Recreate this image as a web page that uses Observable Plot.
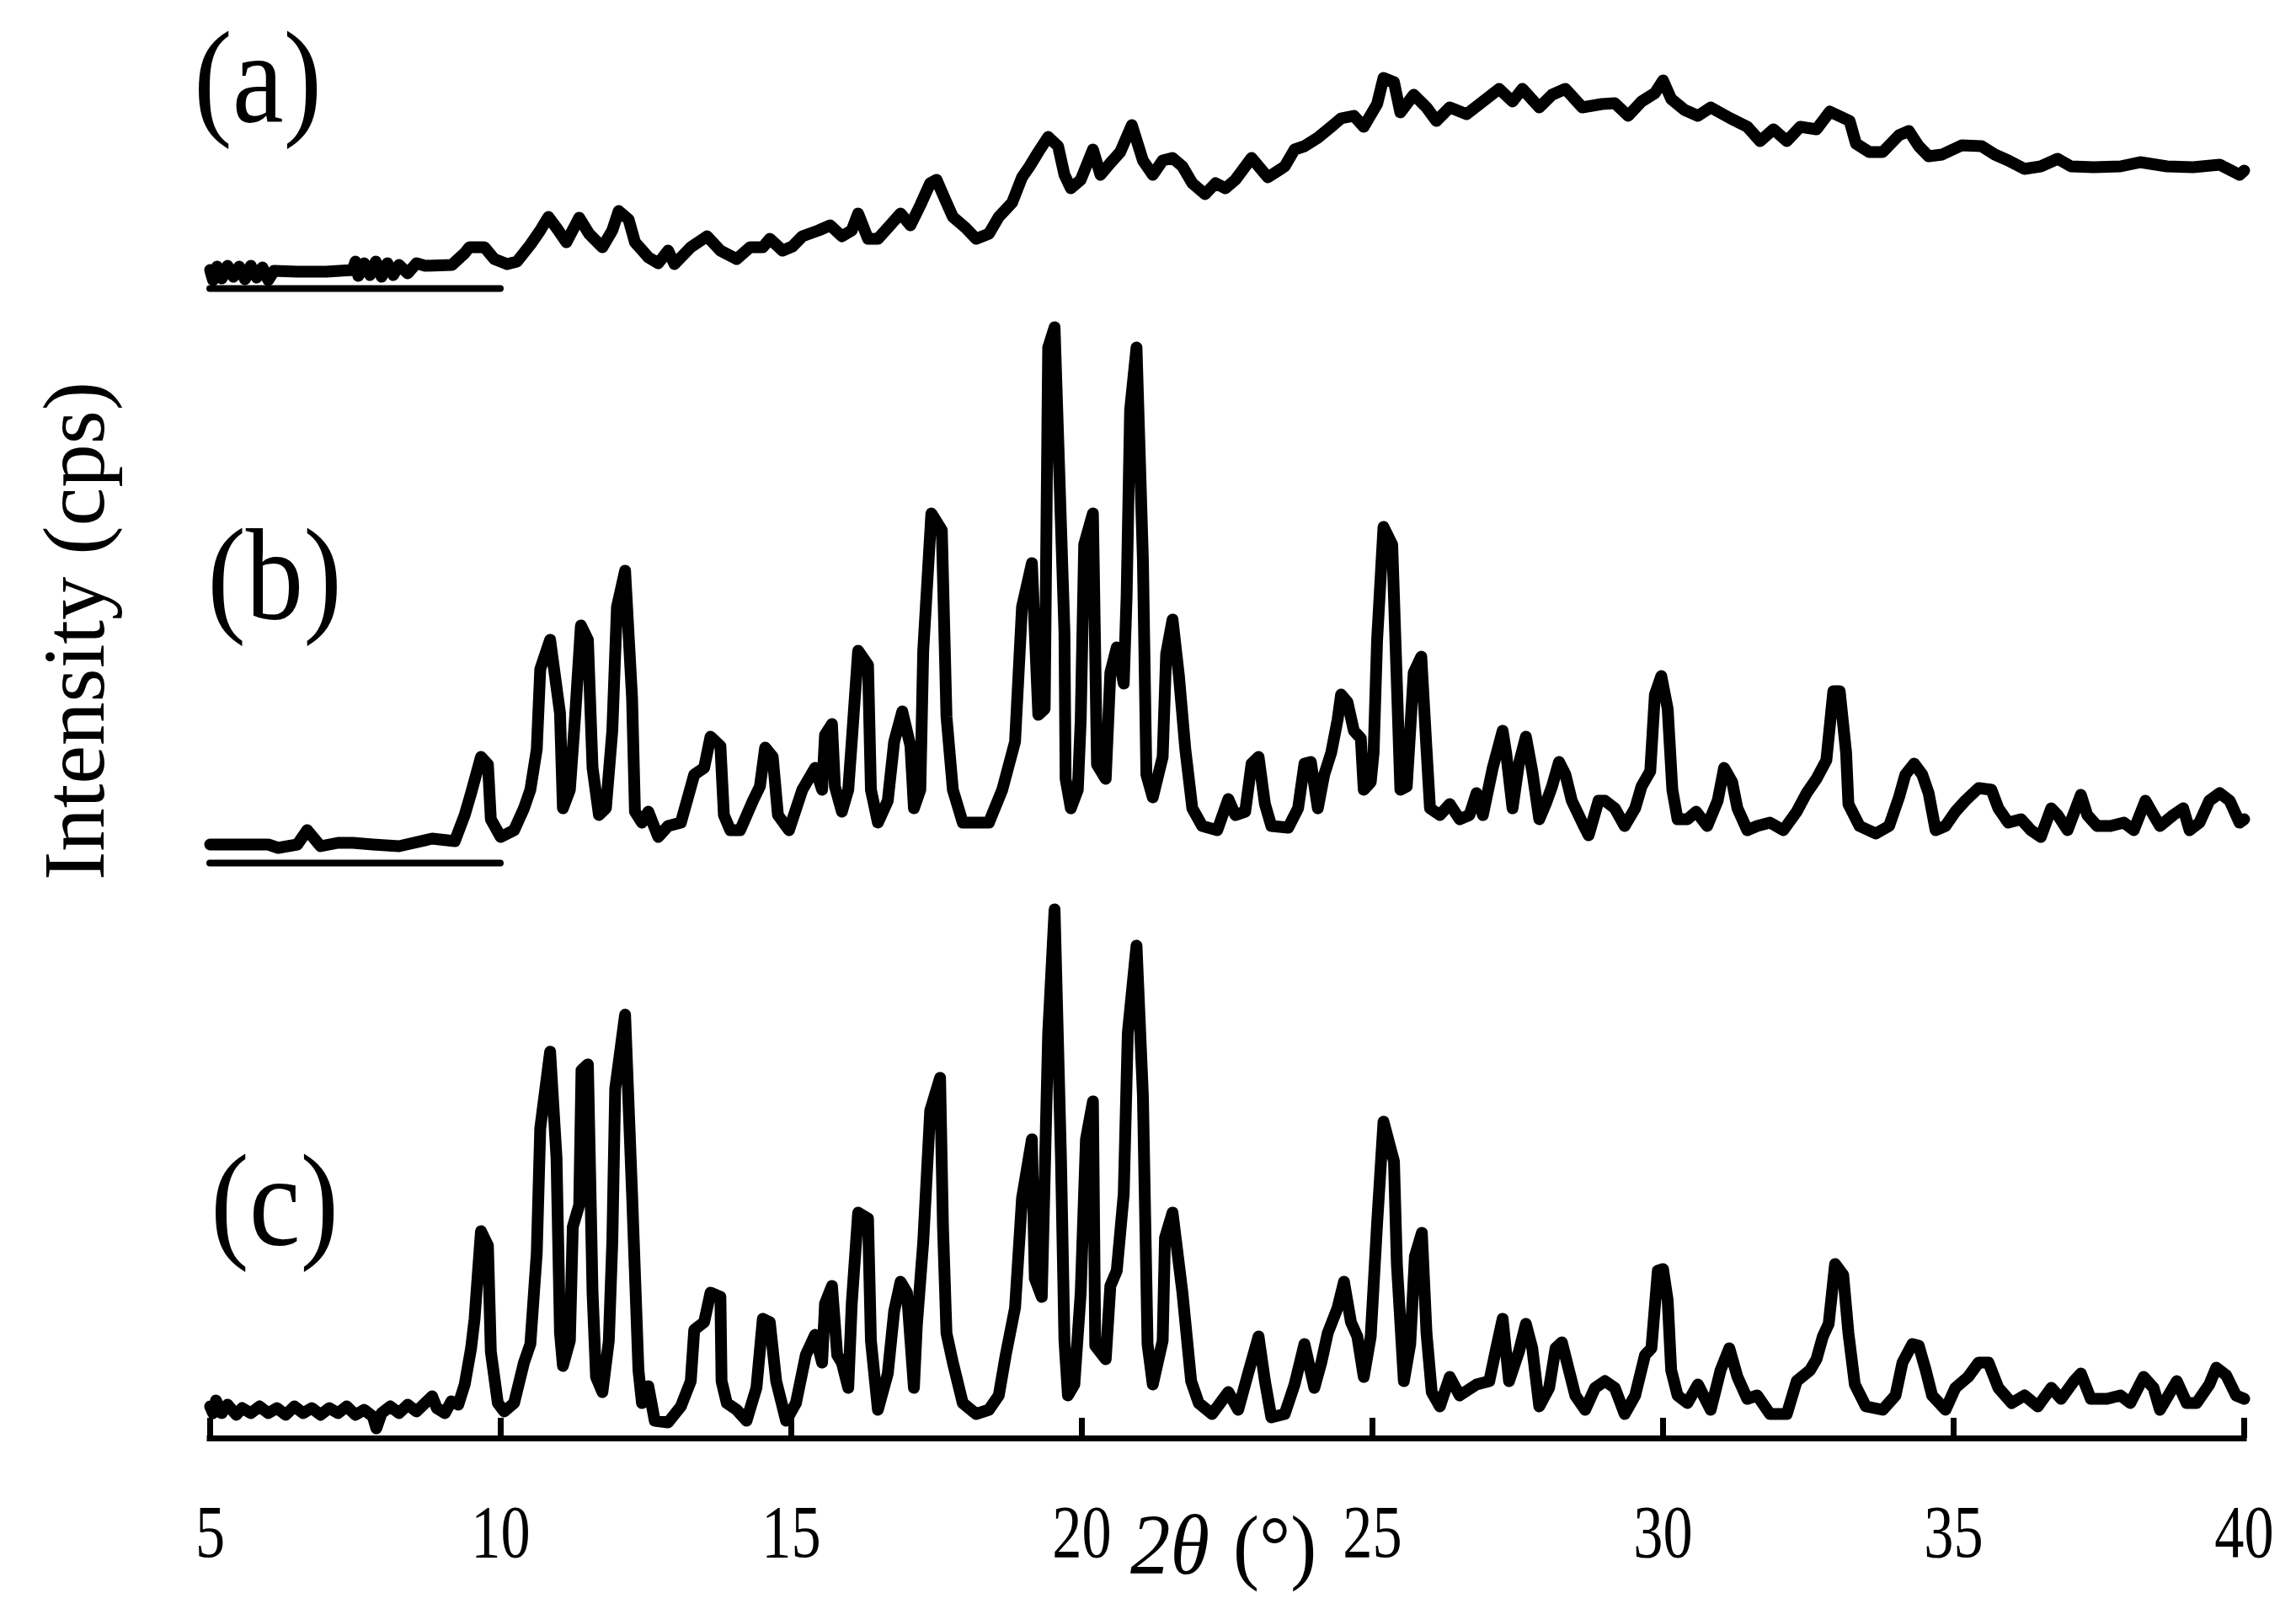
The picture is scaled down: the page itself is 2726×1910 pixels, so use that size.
<!DOCTYPE html>
<html>
<head>
<meta charset="utf-8">
<script src="https://cdn.jsdelivr.net/npm/d3@7"></script>
<script src="https://cdn.jsdelivr.net/npm/@observablehq/plot@0.6"></script>
<style>
  html, body { margin: 0; padding: 0; background: #ffffff; }
  #chart svg { display: block; }
</style>
</head>
<body>
<div id="chart"></div>
<script>
// ---- Data: [2θ (deg), intensity above each pattern's own baseline (arbitrary counts)] ----
const traceA = [
  [5.0,22],[5.05,10],[5.12,26],[5.2,12],[5.3,27],[5.4,14],[5.5,26],[5.6,11],[5.7,27],[5.8,13],
  [5.9,25],[6.0,10],[6.1,21],[6.5,20],[7.0,20],[7.45,22],[7.5,32],[7.55,15],[7.65,30],[7.75,16],
  [7.85,32],[7.95,14],[8.05,30],[8.15,16],[8.25,28],[8.4,18],[8.55,30],[8.7,27],[9.16,28],
  [9.38,42],[9.46,49],[9.72,49],[9.89,35],[10.11,29],[10.28,32],[10.51,52],[10.68,69],
  [10.82,85],[10.96,72],[11.13,55],[11.35,84],[11.52,65],[11.75,49],[11.92,69],[12.03,92],[12.2,82],
  [12.31,55],[12.54,37],[12.71,30],[12.88,45],[12.99,29],[13.27,49],[13.55,62],[13.78,45],[14.06,35],
  [14.29,49],[14.51,49],[14.63,59],[14.85,45],[15.02,50],[15.19,62],[15.47,69],[15.67,75],[15.87,62],
  [16.04,69],[16.15,89],[16.32,59],[16.49,59],[16.66,72],[16.88,89],[17.05,75],[17.22,99],[17.39,125],
  [17.5,129],[17.67,102],[17.78,85],[18.0,72],[18.18,59],[18.4,65],[18.57,85],[18.8,102],[18.97,132],
  [19.1,145],[19.25,162],[19.42,180],[19.59,169],[19.7,135],[19.81,119],[19.98,129],[20.19,165],
  [20.32,135],[20.49,149],[20.66,162],[20.86,194],[21.05,152],[21.22,135],[21.39,152],[21.56,155],
  [21.73,145],[21.9,125],[22.12,112],[22.3,125],[22.47,119],[22.64,129],[22.92,155],[23.2,132],
  [23.49,145],[23.66,165],[23.83,169],[24.06,179],[24.29,192],[24.46,202],[24.68,205],[24.85,192],
  [25.08,219],[25.19,250],[25.37,245],[25.48,209],[25.71,230],[25.93,215],[26.1,199],[26.33,215],
  [26.62,207],[26.9,222],[27.18,237],[27.41,222],[27.58,237],[27.87,215],[28.09,230],[28.32,237],
  [28.61,215],[28.95,219],[29.17,220],[29.4,205],[29.63,222],[29.86,232],[30.0,247],[30.14,225],
  [30.37,212],[30.6,205],[30.82,215],[31.16,202],[31.45,192],[31.67,175],[31.9,189],[32.13,175],
  [32.36,192],[32.64,189],[32.87,210],[33.21,199],[33.32,172],[33.55,162],[33.78,162],[34.06,182],
  [34.23,187],[34.4,169],[34.57,157],[34.8,159],[35.14,170],[35.48,169],[35.71,159],[35.94,152],
  [36.22,142],[36.5,145],[36.79,154],[37.02,145],[37.41,144],[37.87,145],[38.21,150],[38.67,145],
  [39.12,144],[39.58,147],[39.92,135],[40.0,140]
];
const traceB = [
  [5.0,22],[5.5,22],[6.0,22],[6.17,18],[6.5,22],[6.67,39],[6.9,20],[7.2,24],[7.46,24],[7.8,22],
  [8.25,20],[8.82,29],[9.21,26],[9.38,57],[9.49,83],[9.66,126],[9.78,117],[9.83,52],[10.0,31],
  [10.23,39],[10.4,65],[10.51,87],[10.62,135],[10.68,230],[10.85,265],[11.02,178],[11.07,65],
  [11.19,87],[11.28,174],[11.38,282],[11.5,265],[11.58,113],[11.69,57],[11.81,65],[11.92,157],
  [12.0,304],[12.14,347],[12.26,196],[12.31,61],[12.43,48],[12.54,61],[12.71,31],[12.88,44],
  [13.1,48],[13.33,105],[13.5,113],[13.61,150],[13.78,139],[13.84,57],[13.95,39],[14.12,39],
  [14.34,74],[14.46,91],[14.55,137],[14.68,126],[14.77,57],[14.96,39],[15.19,87],[15.41,113],
  [15.53,87],[15.58,152],[15.7,165],[15.75,91],[15.87,61],[15.98,87],[16.04,144],[16.15,252],
  [16.32,235],[16.37,87],[16.49,48],[16.66,74],[16.77,144],[16.91,180],[17.05,139],[17.11,65],
  [17.22,87],[17.27,252],[17.41,415],[17.59,395],[17.67,174],[17.78,87],[17.95,48],[18.4,48],
  [18.63,87],[18.85,144],[18.97,304],[19.14,356],[19.25,176],[19.36,183],[19.42,612],[19.53,636],
  [19.7,274],[19.72,100],[19.81,65],[19.93,87],[19.98,170],[20.04,378],[20.19,415],[20.26,117],
  [20.41,100],[20.49,226],[20.6,256],[20.72,213],[20.77,317],[20.83,538],[20.94,612],[21.05,360],
  [21.11,105],[21.22,78],[21.39,126],[21.45,248],[21.56,289],[21.67,222],[21.78,135],[21.9,65],
  [22.07,44],[22.33,39],[22.52,76],[22.64,57],[22.81,61],[22.92,118],[23.04,126],[23.15,70],
  [23.26,44],[23.55,42],[23.72,65],[23.83,118],[23.94,120],[24.06,65],[24.17,105],[24.29,131],
  [24.4,170],[24.46,200],[24.57,191],[24.68,157],[24.8,148],[24.85,87],[24.97,96],[25.02,131],
  [25.08,265],[25.19,399],[25.34,378],[25.42,213],[25.48,87],[25.59,91],[25.71,226],[25.84,245],
  [25.93,135],[25.99,65],[26.16,57],[26.33,70],[26.5,52],[26.67,57],[26.79,83],[26.9,57],
  [27.07,113],[27.24,157],[27.3,131],[27.41,65],[27.52,118],[27.64,150],[27.75,109],[27.87,52],
  [27.98,70],[28.09,91],[28.21,120],[28.32,105],[28.43,74],[28.61,48],[28.72,33],[28.89,74],
  [29.0,74],[29.17,65],[29.34,44],[29.52,65],[29.63,91],[29.78,109],[29.86,200],[29.97,222],
  [30.08,183],[30.16,87],[30.25,52],[30.42,52],[30.57,61],[30.76,44],[30.94,74],[31.05,113],
  [31.19,96],[31.28,65],[31.45,39],[31.62,44],[31.84,48],[32.07,39],[32.3,61],[32.47,83],
  [32.64,100],[32.81,122],[32.93,204],[33.04,204],[33.15,131],[33.19,70],[33.38,44],[33.66,35],
  [33.89,44],[34.06,78],[34.17,105],[34.32,118],[34.46,105],[34.57,83],[34.69,39],[34.86,44],
  [35.03,61],[35.2,74],[35.43,89],[35.65,87],[35.77,65],[35.94,48],[36.16,52],[36.33,39],
  [36.5,31],[36.68,65],[36.79,57],[36.96,39],[37.19,81],[37.3,57],[37.47,44],[37.7,44],
  [37.93,48],[38.1,39],[38.3,74],[38.44,57],[38.55,44],[38.78,57],[38.95,65],[39.06,39],
  [39.23,48],[39.4,74],[39.58,83],[39.75,74],[39.92,48],[40.0,52]
];
const traceC = [
  [5.0,38],[5.05,30],[5.1,45],[5.2,30],[5.3,40],[5.45,28],[5.55,36],[5.7,30],[5.85,38],[6.0,30],
  [6.15,36],[6.3,28],[6.45,38],[6.6,30],[6.75,36],[6.9,28],[7.05,36],[7.2,30],[7.35,38],[7.5,28],
  [7.65,34],[7.8,26],[7.86,12],[7.95,30],[8.1,38],[8.25,30],[8.4,40],[8.55,32],[8.7,42],[8.82,50],
  [8.9,36],[9.04,30],[9.15,44],[9.27,40],[9.38,64],[9.49,107],[9.55,142],[9.66,246],
  [9.78,229],[9.83,103],[9.95,42],[10.06,32],[10.23,42],[10.4,90],[10.51,112],[10.62,220],
  [10.68,368],[10.85,459],[10.96,333],[11.02,125],[11.07,86],[11.19,116],[11.24,251],[11.35,277],
  [11.39,437],[11.5,444],[11.58,173],[11.64,73],[11.75,55],[11.86,116],[11.92,233],[11.97,415],
  [12.14,503],[12.26,290],[12.37,81],[12.43,42],[12.54,62],[12.65,21],[12.88,19],[13.1,38],
  [13.27,68],[13.33,129],[13.5,138],[13.61,173],[13.78,168],[13.8,68],[13.89,42],[14.06,34],
  [14.23,21],[14.4,60],[14.51,142],[14.63,138],[14.74,68],[14.91,21],[15.08,42],[15.25,99],
  [15.41,123],[15.53,90],[15.58,160],[15.7,181],[15.79,99],[15.87,90],[15.98,60],[16.04,160],
  [16.15,268],[16.32,261],[16.37,116],[16.49,34],[16.66,77],[16.77,151],[16.88,186],[16.99,173],
  [17.11,60],[17.16,134],[17.27,233],[17.39,389],[17.56,428],[17.61,251],[17.67,125],[17.78,90],
  [17.95,42],[18.18,29],[18.4,34],[18.57,51],[18.69,99],[18.85,155],[18.97,285],[19.14,355],
  [19.19,190],[19.31,168],[19.42,481],[19.53,628],[19.64,333],[19.7,116],[19.76,51],[19.87,64],
  [19.98,173],[20.07,355],[20.19,400],[20.23,110],[20.41,94],[20.49,181],[20.6,199],[20.72,290],
  [20.79,481],[20.94,585],[21.05,407],[21.13,112],[21.22,64],[21.39,116],[21.43,238],[21.56,268],
  [21.73,173],[21.88,68],[22.01,42],[22.24,29],[22.52,55],[22.69,34],[22.86,77],[23.04,121],
  [23.15,68],[23.26,25],[23.49,29],[23.66,64],[23.83,112],[24.0,60],[24.12,90],[24.23,125],
  [24.4,155],[24.51,186],[24.63,138],[24.74,121],[24.85,73],[24.97,121],[25.08,255],[25.19,376],
  [25.37,329],[25.42,207],[25.54,68],[25.65,112],[25.73,216],[25.85,244],[25.93,125],[26.02,55],
  [26.16,38],[26.33,73],[26.5,51],[26.79,64],[27.01,68],[27.13,107],[27.24,142],[27.35,68],
  [27.52,103],[27.64,136],[27.75,107],[27.87,38],[28.04,60],[28.15,107],[28.26,114],[28.38,81],
  [28.49,51],[28.66,34],[28.83,60],[29.0,68],[29.17,60],[29.34,29],[29.52,51],[29.69,99],
  [29.8,107],[29.91,199],[30.0,201],[30.08,164],[30.14,81],[30.25,51],[30.42,42],[30.6,64],
  [30.82,34],[30.99,81],[31.14,107],[31.28,73],[31.45,47],[31.62,51],[31.84,29],[32.13,29],
  [32.3,68],[32.53,81],[32.64,94],[32.75,121],[32.85,136],[32.96,207],[33.1,194],[33.19,125],
  [33.3,64],[33.49,38],[33.78,34],[34.0,51],[34.12,90],[34.29,112],[34.4,110],[34.52,81],
  [34.63,51],[34.86,34],[35.03,60],[35.25,73],[35.43,90],[35.6,90],[35.77,60],[36.0,42],
  [36.22,51],[36.45,38],[36.68,60],[36.85,47],[37.07,68],[37.19,77],[37.36,47],[37.64,47],
  [37.87,51],[38.04,42],[38.27,73],[38.44,60],[38.55,34],[38.84,68],[39.01,42],[39.18,42],
  [39.4,64],[39.52,84],[39.69,75],[39.86,51],[40.0,47]
];

const panelNames   = ["(a)", "(b)", "(c)"];
const panelOffsets = [1365, 683, 0];       // vertical stacking offsets (counts)
const panelLabelX  = [5.82, 6.11, 6.11];    // 2θ where each panel label sits
const panelLabelY  = [1564, 974, 231];      // counts at each panel label baseline
const baselineBarX = [5, 10];               // short zero-level bars under (a) and (b)
const xTicks       = [5, 10, 15, 20, 25, 30, 35, 40];
const xDomain      = [5, 40];
const yDomain      = [0, 1707];
const xLabelAt     = 22.4;

// ---- Build the table the library needs ----
const traces = [traceA, traceB, traceC];
const rows = traces.flatMap((t, i) =>
  t.map(([x, y]) => ({panel: panelNames[i], x, y: y + panelOffsets[i]}))
);
const labels = panelNames.map((name, i) => ({name, x: panelLabelX[i], y: panelLabelY[i]}));

const serif = "'Liberation Serif', 'Times New Roman', Times, serif";

const chart = Plot.plot({
  width: 2726,
  height: 1910,
  marginLeft: 249,
  marginRight: 62,
  marginTop: 0,
  marginBottom: 203,
  x: {domain: xDomain},
  y: {domain: yDomain, axis: null},
  style: {fontFamily: serif, background: "#ffffff", color: "#000000", overflow: "visible"},
  marks: [
    // zero-level bars for the upper two patterns
    Plot.ruleY(panelOffsets.filter(d => d > 0), {
      x1: baselineBarX[0], x2: baselineBarX[1],
      stroke: "#000", strokeWidth: 8, strokeLinecap: "round"
    }),
    // x axis line
    Plot.ruleY([0], {x1: xDomain[0], x2: xDomain[1], stroke: "#000", strokeWidth: 7, strokeLinecap: "square"}),
    // inward ticks
    Plot.axisX({ticks: xTicks, tickSize: 24, dy: -24, fill: "none", stroke: "#000", strokeWidth: 7, label: null}),
    // tick labels
    Plot.axisX({ticks: xTicks, tickSize: 0, tickPadding: 77, fontSize: 89, fill: "#000", label: null}),
    // the three patterns
    Plot.line(rows, {
      x: "x", y: "y", z: "panel",
      stroke: "#000", strokeWidth: 14, strokeLinejoin: "round", strokeLinecap: "round"
    }),
    // panel labels
    Plot.text(labels, {
      x: "x", y: "y", text: "name",
      fontSize: 154, lineAnchor: "bottom", textAnchor: "middle", fill: "#000"
    }),
    // y-axis title
    Plot.text(["Intensity (cps)"], {
      frameAnchor: "left", rotate: -90, dx: -127, dy: -105,
      lineAnchor: "bottom", textAnchor: "middle", fontSize: 103, fill: "#000"
    }),
    // x-axis title: italic "2θ" + upright "(°)"
    Plot.text(["2θ"], {
      x: xLabelAt, frameAnchor: "bottom", dx: -14, dy: 160,
      textAnchor: "end", lineAnchor: "bottom", fontSize: 102, fontStyle: "italic", fill: "#000"
    }),
    Plot.text(["(°)"], {
      x: xLabelAt, frameAnchor: "bottom", dx: 14, dy: 160,
      textAnchor: "start", lineAnchor: "bottom", fontSize: 100, fill: "#000"
    })
  ]
});

// Reproduce the narrow (tall) lettering of the original
chart.querySelectorAll("text").forEach(t => {
  const g = t.parentNode;
  const aria = g && g.getAttribute ? g.getAttribute("aria-label") : null;
  const s = t.textContent;
  let sx = null;
  if (aria === "x-axis tick label") sx = 0.79;
  else if (/^\([abc]\)$/.test(s)) sx = 0.89;
  else if (s === "2θ" || s === "(°)") sx = 0.93;
  if (sx) t.setAttribute("transform", (t.getAttribute("transform") || "") + ` scale(${sx},1)`);
});

document.getElementById("chart").appendChild(chart);
</script>
</body>
</html>
